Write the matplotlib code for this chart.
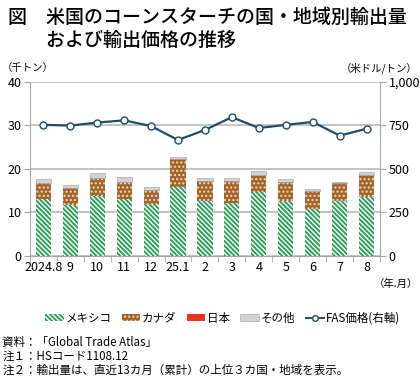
import numpy as np
import matplotlib.pyplot as plt
from matplotlib.lines import Line2D
from matplotlib.patches import Patch

plt.rcParams['font.family'] = ['Noto Sans CJK JP', 'DejaVu Sans']
plt.rcParams['hatch.linewidth'] = 1.0

months = ["2024.8", "9", "10", "11", "12", "25.1", "2", "3", "4", "5", "6", "7", "8"]
mexico = [13.0, 11.6, 13.8, 13.0, 12.0, 15.8, 12.7, 12.1, 14.6, 12.6, 10.8, 12.6, 13.5]
canada = [3.7, 3.9, 4.1, 3.9, 3.1, 6.3, 4.4, 4.8, 4.0, 4.1, 4.1, 4.0, 5.0]
japan = [0.05, 0.05, 0.05, 0.05, 0.05, 0.05, 0.1, 0.3, 0.05, 0.15, 0.05, 0.1, 0.05]
other = [0.85, 0.65, 1.05, 1.15, 0.75, 0.5, 0.7, 0.7, 0.75, 0.85, 0.45, 0.15, 0.65]
fas_price = [752, 748, 765, 778, 745, 665, 723, 796, 734, 752, 769, 690, 730]

GREEN = "#2e9e5b"
BROWN = "#a3632b"
RED = "#e8361c"
GRAY = "#d3d3d3"
NAVY = "#1d4d6b"
AX = "#a6a6a6"
MEX_HATCH = "\\" * 7
CAN_HATCH = "...."

fig = plt.figure(figsize=(4.2, 3.78), dpi=100)
ax = fig.add_axes([0.071, 0.323, 0.834, 0.461])

x = np.arange(len(months))
w = 0.56
b1 = np.array(mexico)
b2 = b1 + np.array(canada)
b3 = b2 + np.array(japan)

ax.bar(x, mexico, w, color=GREEN, edgecolor="white", hatch=MEX_HATCH, linewidth=0, zorder=3)
ax.bar(x, canada, w, bottom=b1, color=BROWN, edgecolor="#f3dcbc", hatch=CAN_HATCH, linewidth=0, zorder=3)
ax.bar(x, japan, w, bottom=b2, color=RED, linewidth=0, zorder=3)
ax.bar(x, other, w, bottom=b3, color=GRAY, edgecolor="#999999", linewidth=0.4, zorder=3)

ax.set_xlim(-0.5, len(months) - 0.5)
ax.set_ylim(0, 40)
ax.set_yticks([0, 10, 20, 30, 40])
ax.grid(axis="y", color="#bfbfbf", linewidth=1.3, zorder=0)
for s in ["top", "right"]:
    ax.spines[s].set_visible(False)
ax.spines["left"].set_color(AX)
ax.spines["bottom"].set_color(AX)
ax.tick_params(axis="y", colors=AX, labelcolor="black", labelsize=9, length=4, pad=2)
ax.set_xticks(x)
ax.set_xticklabels(months)
ax.tick_params(axis="x", length=0, labelsize=9, pad=4)
ax.set_xticks(np.arange(-0.5, len(months)), minor=True)
ax.tick_params(axis="x", which="minor", length=4, colors=AX)

ax2 = ax.twinx()
ax2.set_ylim(0, 1000)
ax2.set_yticks([0, 250, 500, 750, 1000])
ax2.set_yticklabels(["0", "250", "500", "750", "1,000"])
for s in ["top", "left", "bottom"]:
    ax2.spines[s].set_visible(False)
ax2.spines["right"].set_color(AX)
ax2.tick_params(axis="y", colors=AX, labelcolor="black", labelsize=9, length=4, pad=2)
ax2.plot(x, fas_price, color=NAVY, linewidth=1.6, marker="o", markersize=5,
         markerfacecolor="white", markeredgecolor=NAVY, markeredgewidth=1.0, zorder=4)

fig.text(0.018, 0.955, "図　米国のコーンスターチの国・地域別輸出量", fontsize=13.7,
         va="center", ha="left", fontweight="medium")
fig.text(0.018, 0.894, "　　および輸出価格の推移", fontsize=13.7,
         va="center", ha="left", fontweight="medium")
fig.text(0.005, 0.82, "（千トン）", fontsize=7.5, va="center", ha="left")
fig.text(0.995, 0.82, "（米ドル/トン）", fontsize=7.5, va="center", ha="right")
fig.text(0.995, 0.25, "（年.月）", fontsize=7.5, va="center", ha="right")

handles = [
    Patch(facecolor=GREEN, edgecolor="white", hatch=MEX_HATCH, linewidth=0),
    Patch(facecolor=BROWN, edgecolor="#f3dcbc", hatch=CAN_HATCH, linewidth=0),
    Patch(facecolor=RED, linewidth=0),
    Patch(facecolor=GRAY, edgecolor="#999999", linewidth=0.4),
    Line2D([], [], color=NAVY, linewidth=1.4, marker="o", markersize=4,
           markerfacecolor="white", markeredgecolor=NAVY),
]
labels = ["メキシコ", "カナダ", "日本", "その他", "FAS価格(右軸)"]
fig.legend(handles, labels, loc="center", bbox_to_anchor=(0.53, 0.158), ncol=5,
           frameon=False, fontsize=8.3, handlelength=1.6, handleheight=0.5,
           handletextpad=0.15, columnspacing=0.9)

notes = ["資料：「Global Trade Atlas」",
         "注１：HSコード1108.12",
         "注２：輸出量は、直近13カ月（累計）の上位３カ国・地域を表示。"]
for i, t in enumerate(notes):
    fig.text(0.005, 0.095 - i * 0.037, t, fontsize=8.3, va="center", ha="left")

fig.savefig("out.png", dpi=100)
